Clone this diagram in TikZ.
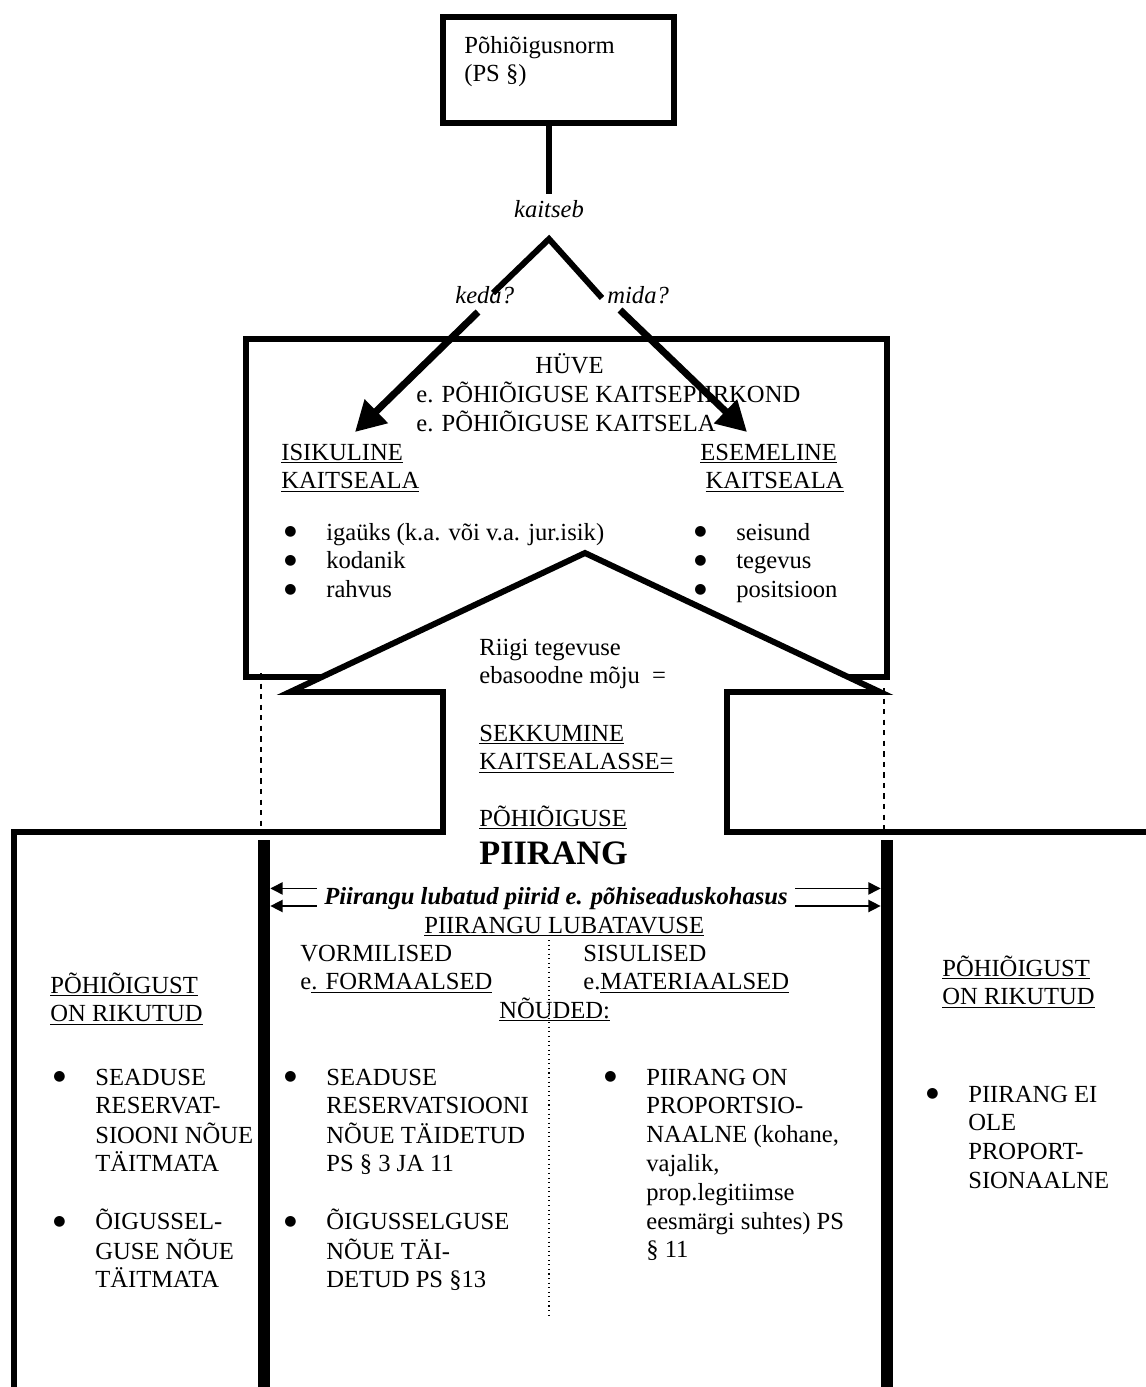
\documentclass[tikz,border=0pt]{standalone}
\usepackage{fontspec}
\setmainfont{Liberation Serif}
\newfontfamily\symfont{DejaVu Sans}
\usetikzlibrary{positioning, arrows.meta}

\tikzset{
  frame/.style={draw, line width=3.4pt},
  txt/.style={anchor=base west, inner sep=0pt},
  bigarrow/.style={line width=4pt, -{Triangle[length=17pt,width=18pt]}},
  smallarrow/.style={line width=0.8pt, -{Triangle[length=7pt,width=7pt]}},
  guide/.style={dashed, line width=0.6pt},
}
\newcommand{\txtrows}[1]{\begin{tabular}[t]{@{}l@{}}#1\end{tabular}}
\newcommand{\blist}[1]{\begin{tabular}[t]{@{}l@{}l@{}}#1\end{tabular}}
\newcommand{\bu}{\makebox[23.9pt][l]{\raisebox{2.3pt}{\fontsize{8pt}{8pt}\symfont ●}}}

\begin{document}
\begin{tikzpicture}[x=0.02cm, y=-0.02cm, font=\fontsize{14pt}{16.4pt}\selectfont]
    \useasboundingbox (0,0) rectangle (1146,1387);

    % Define frames
    \node[frame, inner sep=0, minimum width=4.62cm, minimum height=2.12cm] (norm) at (558.5,70) {};
    \node[frame, inner sep=0, minimum width=12.82cm, minimum height=6.76cm] (huvebox) at (566.5,508) {};

    % Define the big arrow and the lower frame
    \fill[white] (443,832) -- (443,692) -- (290,692) -- (585,553) -- (880,692) -- (727,692) -- (727,832) -- cycle;
    \draw[frame] (14,1400) -- (14,832) -- (443,832) -- (443,692) -- (290,692) -- (585,553)
        -- (880,692) -- (727,692) -- (727,832) -- (1160,832);
    \node[fill, inner sep=0, minimum width=0.24cm, minimum height=11.2cm] (barL) at (264,1120) {};
    \node[fill, inner sep=0, minimum width=0.24cm, minimum height=11.2cm] (barR) at (887,1120) {};
    \draw[guide] (261,673) -- (261,832);
    \draw[guide] (884,688) -- (884,832);

    % Define texts
    \node[txt] (normtxt) at (464,53) {\txtrows{Põhiõigusnorm\\(PS §)}};
    \node[txt, anchor=base, inner sep=3pt] (kaitseb) at (549,217) {\itshape kaitseb};
    \node[txt] (keda) at (455,303) {\itshape keda?};
    \node[txt] (mida) at (607,303) {\itshape mida?};
    \node[txt] (huve) at (535,373) {HÜVE};
    \node[txt] (kaitseala) at (416,402) {\txtrows{e. PÕHIÕIGUSE KAITSEPIIRKOND\\e. PÕHIÕIGUSE KAITSELA}};
    \node[txt] (isik) at (281,460) {\txtrows{\underline{ISIKULINE}\\\underline{KAITSEALA}}};
    \node[txt] (esem) at (700,460) {\txtrows{\underline{ESEMELINE}\\\hspace*{3pt}\underline{KAITSEALA}}};
    \node[txt] (isiklist) at (284,540) {\blist{\bu&igaüks (k.a. või v.a. jur.isik)\\\bu&kodanik\\\bu&rahvus}};
    \node[txt] (esemlist) at (694,540) {\blist{\bu&seisund\\\bu&tegevus\\\bu&positsioon}};
    \node[txt] (riigi) at (479,655) {\txtrows{Riigi tegevuse\\ebasoodne mõju\ \ =}};
    \node[txt] (sekk) at (479,741) {\txtrows{\underline{SEKKUMINE}\\\underline{KAITSEALASSE=}}};
    \node[txt] (pohi) at (479,826) {\underline{PÕHIÕIGUSE}};
    \node[txt] (piirang) at (479,864) {\fontsize{19.5pt}{22pt}\selectfont\bfseries PIIRANG};
    \node[txt, anchor=base, inner xsep=4pt] (lubatud) at (556,904) {\bfseries\itshape Piirangu lubatud piirid e. põhiseaduskohasus};
    \node[txt] (lubatavuse) at (424,933) {\underline{PIIRANGU LUBATAVUSE}};
    \node[txt] (vorm) at (300,961) {\txtrows{VORMILISED\\e\underline{. FORMAALSED}}};
    \node[txt] (sisu) at (583,961) {\txtrows{SISULISED\\e.\underline{MATERIAALSED}}};
    \node[txt] (noud) at (499,1018) {\underline{NÕUDED:}};
    \node[txt] (rikL) at (50,993) {\txtrows{\underline{PÕHIÕIGUST}\\\underline{ON RIKUTUD}}};
    \node[txt] (rikR) at (942,976) {\txtrows{\underline{PÕHIÕIGUST}\\\underline{ON RIKUTUD}}};
    \node[txt] (listL) at (53,1085) {\blist{\bu&SEADUSE\\&RESERVAT-\\&SIOONI NÕUE\\&TÄITMATA\\&\\
        \bu&ÕIGUSSEL-\\&GUSE NÕUE\\&TÄITMATA}};
    \node[txt] (listM) at (284,1085) {\blist{\bu&SEADUSE\\&RESERVATSIOONI\\&NÕUE TÄIDETUD\\&PS § 3 JA 11\\&\\
        \bu&ÕIGUSSELGUSE\\&NÕUE TÄI-\\&DETUD PS §13}};
    \node[txt] (listS) at (604,1085) {\blist{\bu&PIIRANG ON\\&PROPORTSIO-\\&NAALNE (kohane,\\&vajalik,\\
        &prop.legitiimse\\&eesmärgi suhtes) PS\\&§ 11}};
    \node[txt] (listR) at (926,1102) {\blist{\bu&PIIRANG EI\\&OLE\\&PROPORT-\\&SIONAALNE}};

    % Define connectors
    \coordinate (apex) at (549,239);
    \coordinate (kedaend) at (493,293);
    \coordinate (midaend) at (602,298);
    \coordinate (kedastart) at (478,312);
    \coordinate (kedatip) at (355,432);
    \coordinate (midastart) at (620,310);
    \coordinate (midatip) at (747,432);
    \coordinate (dottop) at (549,940);
    \coordinate (dotbot) at (549,1318);
    \coordinate (lu1) at ([yshift=5.5pt]lubatud.west);
    \coordinate (lu2) at ([yshift=-4.5pt]lubatud.west);
    \coordinate (ru1) at ([yshift=5.5pt]lubatud.east);
    \coordinate (ru2) at ([yshift=-4.5pt]lubatud.east);

    \draw[frame] (kaitseb.north |- norm.south) -- (kaitseb.north);
    \draw[frame] (kedaend) -- (apex) -- (midaend);
    \draw[bigarrow] (kedastart) -- (kedatip);
    \draw[bigarrow] (midastart) -- (midatip);
    \draw[dotted, line width=0.6pt] (dottop) -- (dotbot);
    \path[smallarrow]
    (lu1) edge (lu1 -| barL.east)
        (lu2) edge (lu2 -| barL.east)
    (ru1) edge (ru1 -| barR.west)
        (ru2) edge (ru2 -| barR.west);
\end{tikzpicture}
\end{document}
